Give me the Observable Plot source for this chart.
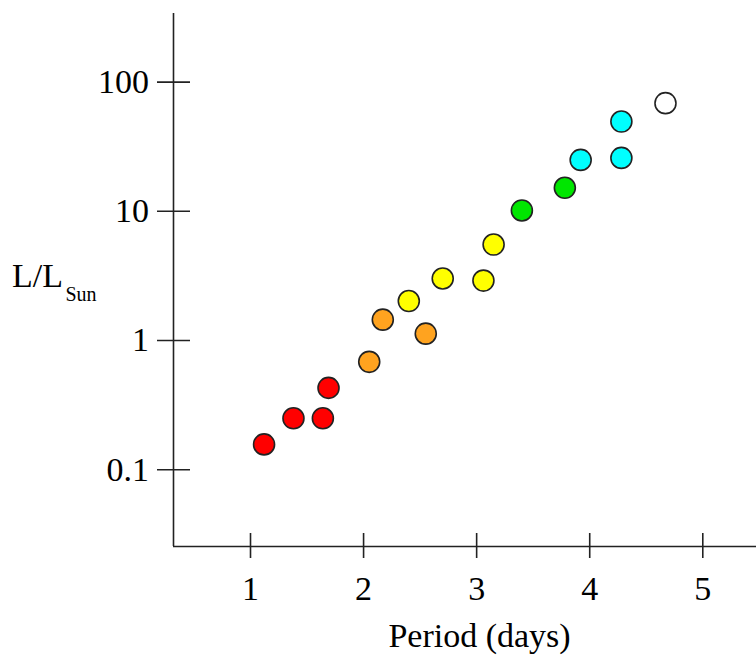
<!DOCTYPE html>
<html>
<head>
<meta charset="utf-8">
<script src="https://cdn.jsdelivr.net/npm/d3@7"></script>
<script src="https://cdn.jsdelivr.net/npm/@observablehq/plot@0.6"></script>
<style>
  html, body { margin: 0; padding: 0; background: #fff; }
</style>
</head>
<body>
<div id="chart"></div>
<script>
// Cepheid-like period–luminosity data
const periods     = [1.12, 1.38, 1.64, 1.69, 2.05, 2.17, 2.55, 2.40, 2.70, 3.06, 3.15, 3.40, 3.78, 3.92, 4.28, 4.28, 4.67];
const luminosity  = [0.157, 0.25, 0.25, 0.43, 0.684, 1.45, 1.13, 2.02, 3.02, 2.91, 5.53, 10.15, 15.2, 25.0, 25.9, 49.5, 68.7];
const colorGroups = ["red","red","red","red","orange","orange","orange","yellow","yellow","yellow","yellow","green","green","cyan","cyan","cyan","white"];
const groupColors = {red: "#ff0000", orange: "#ffa31f", yellow: "#ffff00", green: "#00e600", cyan: "#00ffff", white: "#ffffff"};

const xTicks = [1, 2, 3, 4, 5];
const yTicks = [0.1, 1, 10, 100];
const yTickLabels = ["0.1", "1", "10", "100"];
const xLabel = "Period (days)";
const yLabelMain = "L/L";
const yLabelSub = "Sun";

const stars = periods.map((p, i) => ({period: p, lum: luminosity[i], group: colorGroups[i]}));

const xDomain = [0.319, 5.475];
const yDomain = [0.02546, 339.6];
const ink = "#222";
const serif = "'Liberation Serif', 'Times New Roman', serif";

const chart = Plot.plot({
  width: 756,
  height: 657,
  marginLeft: 173,
  marginRight: 0,
  marginTop: 13,
  marginBottom: 111,
  style: {fontFamily: serif, background: "#fff", color: "#000"},
  x: {domain: xDomain, axis: null},
  y: {type: "log", domain: yDomain, axis: null},
  marks: [
    // axis lines
    Plot.ruleX([xDomain[0]], {stroke: ink, strokeWidth: 1.6}),
    Plot.ruleY([yDomain[0]], {stroke: ink, strokeWidth: 1.6}),
    // crossing tick marks
    Plot.axisY(yTicks, {anchor: "left", tickSize: 33, dx: 17, fill: "none", stroke: ink, strokeWidth: 1.6}),
    Plot.axisX(xTicks, {anchor: "bottom", tickSize: 25, dy: -13, fill: "none", stroke: ink, strokeWidth: 1.6}),
    // tick labels
    Plot.axisY(yTicks, {anchor: "left", tickSize: 0, tickPadding: 24.5, fontSize: 34, fill: "#000",
      tickFormat: (d) => yTickLabels[yTicks.indexOf(d)], label: null}),
    Plot.axisX(xTicks, {anchor: "bottom", tickSize: 0, tickPadding: 29.5, fontSize: 34, fill: "#000",
      tickFormat: (d) => String(d), label: null}),
    // axis titles
    Plot.text([xLabel], {frameAnchor: "bottom", text: (d) => d, dx: 14.5, dy: 100.5, lineAnchor: "bottom",
      fontSize: 34, fill: "#000"}),
    Plot.text([yLabelMain], {frameAnchor: "left", text: (d) => d, textAnchor: "start", lineAnchor: "bottom",
      dx: -161.5, dy: 6.5, fontSize: 34, fill: "#000"}),
    Plot.text([yLabelSub], {frameAnchor: "left", text: (d) => d, textAnchor: "start", lineAnchor: "bottom",
      dx: -108, dy: 20.5, fontSize: 20, fill: "#000"}),
    // stars
    Plot.dot(stars, {x: "period", y: "lum", r: 10.5, fill: (d) => groupColors[d.group], stroke: ink, strokeWidth: 1.6})
  ]
});
document.getElementById("chart").append(chart);
</script>
</body>
</html>
